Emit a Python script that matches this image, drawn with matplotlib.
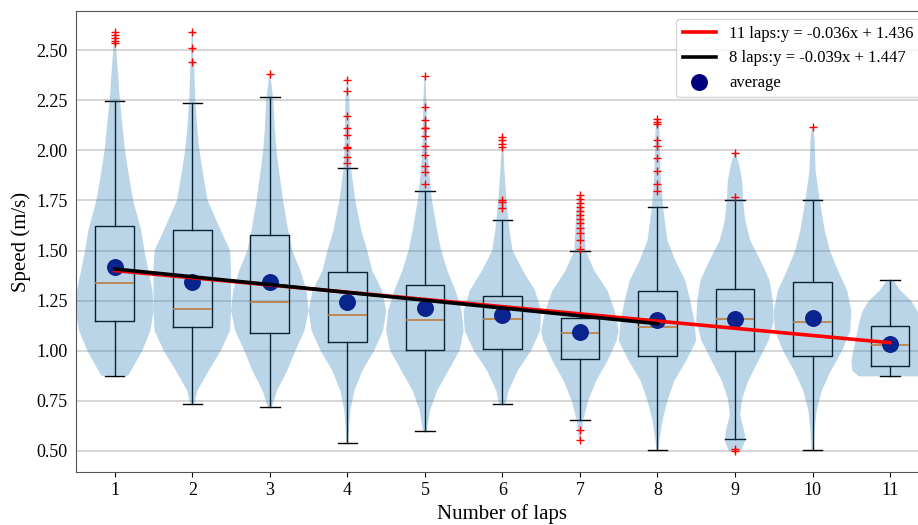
import matplotlib
matplotlib.use("Agg")
import matplotlib.pyplot as plt

plt.rcParams['font.family'] = ['Liberation Serif', 'DejaVu Serif']

laps = [1, 2, 3, 4, 5, 6, 7, 8, 9, 10, 11]

# box statistics (m/s)
q1 = [1.149, 1.117, 1.090, 1.045, 1.003, 1.007, 0.960, 0.972, 1.000, 0.972, 0.922]
med = [1.337, 1.210, 1.242, 1.180, 1.152, 1.157, 1.090, 1.117, 1.157, 1.142, 1.027]
q3 = [1.621, 1.600, 1.578, 1.392, 1.330, 1.274, 1.165, 1.300, 1.310, 1.345, 1.125]
whislo = [0.875, 0.735, 0.720, 0.540, 0.600, 0.732, 0.652, 0.507, 0.560, 0.503, 0.872]
whishi = [2.245, 2.235, 2.265, 1.912, 1.798, 1.650, 1.500, 1.715, 1.753, 1.753, 1.352]
means = [1.420, 1.343, 1.345, 1.242, 1.213, 1.180, 1.095, 1.155, 1.160, 1.162, 1.034]
fliers = [
    [2.59, 2.575, 2.56, 2.545, 2.535],
    [2.59, 2.51, 2.44],
    [2.38],
    [2.35, 2.298, 2.173, 2.11, 2.075, 2.017, 2.013, 1.967, 1.938],
    [2.373, 2.215, 2.153, 2.113, 2.11, 2.073, 2.023, 1.978, 1.923, 1.893, 1.833],
    [2.067, 2.05, 2.033, 2.017, 1.753, 1.742, 1.713],
    [1.778, 1.758, 1.738, 1.717, 1.697, 1.675, 1.655, 1.637, 1.612, 1.587,
     1.553, 1.508, 0.602, 0.555],
    [2.158, 2.14, 2.133, 2.053, 2.02, 1.96, 1.898, 1.83, 1.798],
    [1.985, 1.767, 0.508, 0.5],
    [2.118],
    [],
]

# violin outlines: speed levels and relative half widths
vio_y = [
    [0.875, 0.9, 1.0, 1.1, 1.2, 1.3, 1.4, 1.5, 1.6, 1.75, 1.9, 2.0, 2.1, 2.25, 2.4, 2.5, 2.59],
    [0.735, 0.8, 0.9, 1.0, 1.1, 1.2, 1.3, 1.4, 1.5, 1.6, 1.75, 1.9, 2.0, 2.1, 2.25, 2.4, 2.5, 2.59],
    [0.72, 0.8, 0.9, 1.0, 1.1, 1.2, 1.3, 1.4, 1.5, 1.6, 1.75, 1.9, 2.0, 2.1, 2.25, 2.38],
    [0.54, 0.6, 0.7, 0.8, 0.9, 1.0, 1.1, 1.2, 1.3, 1.4, 1.5, 1.6, 1.75, 1.9, 2.0, 2.1, 2.25, 2.35],
    [0.6, 0.7, 0.8, 0.9, 1.0, 1.1, 1.2, 1.3, 1.4, 1.5, 1.6, 1.75, 1.9, 2.0, 2.1, 2.25, 2.37],
    [0.73, 0.8, 0.9, 1.0, 1.1, 1.2, 1.3, 1.4, 1.5, 1.6, 1.75, 1.9, 2.07],
    [0.555, 0.65, 0.75, 0.85, 0.95, 1.05, 1.1, 1.2, 1.3, 1.4, 1.5, 1.6, 1.7, 1.778],
    [0.507, 0.55, 0.65, 0.75, 0.85, 0.95, 1.05, 1.15, 1.25, 1.35, 1.45, 1.55, 1.7, 1.85, 2.0, 2.1, 2.158],
    [0.5, 0.55, 0.6, 0.68, 0.76, 0.85, 0.95, 1.05, 1.15, 1.25, 1.35, 1.45, 1.55, 1.65, 1.75, 1.85, 1.93, 1.99],
    [0.503, 0.6, 0.7, 0.8, 0.9, 1.0, 1.1, 1.2, 1.3, 1.4, 1.5, 1.6, 1.75, 1.9, 2.05, 2.118],
    [0.872, 0.9, 0.95, 1.0, 1.05, 1.1, 1.15, 1.2, 1.25, 1.3, 1.352],
]
vio_w = [
    [13, 16, 27, 35, 38, 37, 33, 29, 26, 18, 13, 10, 8, 5, 3, 1.5, 0.5],
    [2, 5, 16, 28, 37, 38, 38, 38, 37, 28, 15, 10, 7, 5, 3, 2, 1, 0.5],
    [2, 7, 17, 25, 34, 38, 36, 30, 22, 18, 13, 9, 6.5, 5, 3.5, 0.5],
    [1, 1.5, 3, 7, 15, 27, 36, 39, 35, 25, 20, 14, 8, 4, 3, 2.5, 2, 0.5],
    [2, 5, 12, 23, 34, 38, 36, 30, 22, 16, 12, 7, 4, 2.5, 2, 1.5, 0.5],
    [3, 6, 15, 28, 37, 38, 32, 20, 10, 7, 4, 2, 0.5],
    [1, 3, 8, 16, 27, 36, 38, 34, 27, 14, 5.5, 4.5, 3.5, 1],
    [1, 2, 5, 10, 17, 29, 39, 37, 33, 28, 18, 10, 6, 3.5, 2.5, 2, 0.5],
    [6, 10, 9, 5, 7, 13, 23, 33, 38, 37, 34, 25, 15, 10, 8, 7, 4, 0.5],
    [1, 2, 4, 9, 18, 29, 37, 38, 34, 25, 17, 12, 7, 3, 2, 0.5],
    [30, 36, 37, 35, 33, 31, 29, 26, 20, 10, 3],
]

fit_labels = ['11 laps:y = -0.036x + 1.436', '8 laps:y = -0.039x + 1.447']
fit_slope = [-0.036, -0.039]
fit_icpt = [1.436, 1.447]
fit_end = [11, 8]
fit_color = ['red', 'black']

fig = plt.figure(figsize=(9.18, 5.25), dpi=100)
ax = fig.add_axes([0.0828, 0.101, 0.929, 0.878])

stats = []
for i in range(len(laps)):
    stats.append(dict(med=med[i], q1=q1[i], q3=q3[i], whislo=whislo[i],
                      whishi=whishi[i], fliers=fliers[i], mean=means[i]))
bp = ax.bxp(stats, positions=laps, widths=0.5, showfliers=True,
            boxprops=dict(color='black', lw=1.0),
            whiskerprops=dict(color='black', lw=1.0),
            capprops=dict(color='black', lw=1.0),
            medianprops=dict(color='C1', lw=1.2),
            flierprops=dict(marker='+', markeredgecolor='red', markersize=6,
                            linestyle='none'))
for fl in bp['fliers']:
    fl.set_zorder(2.6)

ax.scatter(laps, means, s=125, color='navy', zorder=2.1, label='average')

vpstats = []
for i in range(len(laps)):
    vpstats.append(dict(coords=vio_y[i], vals=vio_w[i], mean=means[i],
                        median=med[i], min=vio_y[i][0], max=vio_y[i][-1]))
vp = ax.violin(vpstats, positions=laps, widths=1.0, showmeans=False,
               showextrema=False, showmedians=False)
for body in vp['bodies']:
    body.set_facecolor('#1f77b4')
    body.set_edgecolor('none')
    body.set_alpha(0.3)
    body.set_zorder(2.2)

for k in range(len(fit_labels)):
    xs = [laps[0], fit_end[k]]
    ys = [fit_slope[k] * x + fit_icpt[k] for x in xs]
    ax.plot(xs, ys, color=fit_color[k], lw=2.6, label=fit_labels[k], zorder=3)

ax.set_xlim(0.5, 11.5)
ax.set_ylim(0.395, 2.695)
ax.set_xticks(laps)
ax.set_xticklabels([str(x) for x in laps])
ax.set_yticks([0.5, 0.75, 1.0, 1.25, 1.5, 1.75, 2.0, 2.25, 2.5])
ax.set_yticklabels(['0.50', '0.75', '1.00', '1.25', '1.50', '1.75', '2.00', '2.25', '2.50'])
ax.tick_params(labelsize=13)
ax.tick_params(axis='y', length=0, pad=6)
ax.yaxis.grid(True, color='#d3d3d3', lw=1.3)
ax.set_axisbelow(True)
for s in ax.spines.values():
    s.set_color('#555555')

ax.set_xlabel('Number of laps', fontsize=15)
ax.set_ylabel('Speed (m/s)', fontsize=15)

h, l = ax.get_legend_handles_labels()
order = [l.index(fit_labels[0]), l.index(fit_labels[1]), l.index('average')]
ax.legend([h[i] for i in order], [l[i] for i in order], loc='upper right',
          fontsize=12)

fig.savefig('out.png', dpi=100)
